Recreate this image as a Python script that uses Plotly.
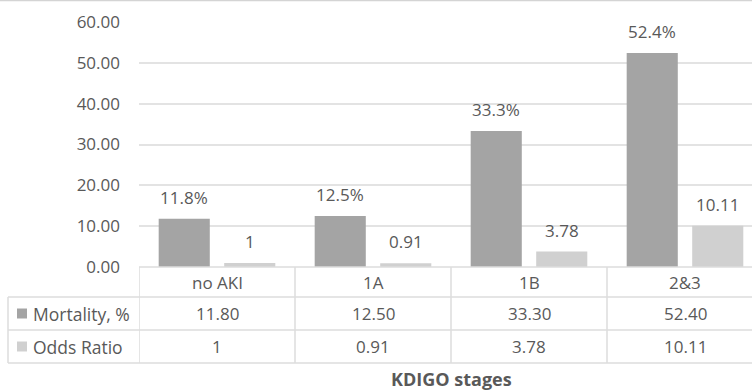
import plotly.graph_objects as go

# KDIGO stage data
stages = ["no AKI", "1A", "1B", "2&3"]
mortality = [11.8, 12.5, 33.3, 52.4]
odds_ratio = [1, 0.91, 3.78, 10.11]
mortality_table = ["11.80", "12.50", "33.30", "52.40"]
odds_table = ["1", "0.91", "3.78", "10.11"]
mortality_labels = ["11.8%", "12.5%", "33.3%", "52.4%"]
odds_labels = ["1", "0.91", "3.78", "10.11"]
series_names = ["Mortality, %", "Odds Ratio"]
y_ticks = [0, 10, 20, 30, 40, 50, 60]

TXT = "#595959"
GRID = "#e3e3e3"
MORT_C = "#a4a4a4"
ODDS_C = "#d0d0d0"
FONT = "Open Sans"

W, H = 752, 390
L, T, B = 139, 22, 123
plot_h = H - T - B          # 245
plot_w = W - L              # 613
cat_w = 156.0               # pixel width of one category


def px_to_paper_y(py):
    return (H - B - py) / plot_h


def px_to_paper_x(px):
    return (px - L) / plot_w


x_idx = list(range(len(stages)))

fig = go.Figure()
fig.add_trace(go.Bar(x=x_idx, y=mortality, name=series_names[0],
                     marker=dict(color=MORT_C, line=dict(width=0)),
                     showlegend=False))
fig.add_trace(go.Bar(x=x_idx, y=odds_ratio, name=series_names[1],
                     marker=dict(color=ODDS_C, line=dict(width=0)),
                     showlegend=False))

# value labels above the bars
off = 0.21
for i in x_idx:
    fig.add_annotation(x=i - off, y=mortality[i], xref="x", yref="y",
                       text=mortality_labels[i], showarrow=False,
                       yanchor="bottom", yshift=8,
                       font=dict(family=FONT, size=17, color=TXT))
    fig.add_annotation(x=i + off, y=odds_ratio[i], xref="x", yref="y",
                       text=odds_labels[i], showarrow=False,
                       yanchor="bottom", yshift=8,
                       font=dict(family=FONT, size=17, color=TXT))

# data table under the chart
row_lines_px = [267, 297, 330, 363]
row_centers_px = [282.5, 313.5, 346.5]
line_style = dict(color="#dcdcdc", width=1.5)
shapes = []
# horizontal table rules
shapes.append(dict(type="line", xref="paper", yref="paper",
                   x0=0, x1=1, y0=px_to_paper_y(row_lines_px[0]),
                   y1=px_to_paper_y(row_lines_px[0]), line=line_style))
for py in row_lines_px[1:]:
    shapes.append(dict(type="line", xref="paper", yref="paper",
                       x0=px_to_paper_x(8), x1=1, y0=px_to_paper_y(py),
                       y1=px_to_paper_y(py), line=line_style))
# vertical table rules
for i in range(len(stages)):
    shapes.append(dict(type="line", xref="x", yref="paper",
                       x0=i - 0.5, x1=i - 0.5,
                       y0=px_to_paper_y(row_lines_px[0]),
                       y1=px_to_paper_y(row_lines_px[-1]), line=line_style))
shapes.append(dict(type="line", xref="paper", yref="paper",
                   x0=px_to_paper_x(8), x1=px_to_paper_x(8),
                   y0=px_to_paper_y(row_lines_px[1]),
                   y1=px_to_paper_y(row_lines_px[-1]), line=line_style))
# legend keys
for r, col in zip([1, 2], [MORT_C, ODDS_C]):
    cy = row_centers_px[r]
    shapes.append(dict(type="rect", xref="paper", yref="paper",
                       x0=px_to_paper_x(17), x1=px_to_paper_x(27),
                       y0=px_to_paper_y(cy + 5), y1=px_to_paper_y(cy - 5),
                       fillcolor=col, line=dict(width=0)))
# outer top border of the chart area
shapes.append(dict(type="line", xref="paper", yref="paper",
                   x0=px_to_paper_x(0), x1=1,
                   y0=px_to_paper_y(0.5), y1=px_to_paper_y(0.5),
                   line=dict(color="#d4d4d4", width=1.5)))

for i in x_idx:
    for r, vals in enumerate([stages, mortality_table, odds_table]):
        fig.add_annotation(x=i, xref="x", yref="paper",
                           y=px_to_paper_y(row_centers_px[r]),
                           text=vals[i], showarrow=False, yanchor="middle",
                           font=dict(family=FONT, size=17, color=TXT))
for r, name in zip([1, 2], series_names):
    fig.add_annotation(x=px_to_paper_x(31), xref="paper", xanchor="left",
                       yref="paper", y=px_to_paper_y(row_centers_px[r]),
                       text=name, showarrow=False, yanchor="middle",
                       font=dict(family=FONT, size=17.5, color=TXT))

# axis title
fig.add_annotation(x=px_to_paper_x(L + 2 * cat_w), xref="paper",
                   y=px_to_paper_y(379), yref="paper",
                   text="<b>KDIGO stages</b>", showarrow=False,
                   yanchor="middle",
                   font=dict(family=FONT, size=18, color=TXT))

fig.update_layout(
    width=W, height=H,
    margin=dict(l=L, r=0, t=T, b=B),
    paper_bgcolor="white", plot_bgcolor="white",
    barmode="group", bargap=0.16, bargroupgap=0.22,
    shapes=shapes,
    font=dict(family=FONT, color=TXT),
    xaxis=dict(range=[-0.5, -0.5 + plot_w / cat_w], showticklabels=False,
               showgrid=False, zeroline=False, showline=False),
    yaxis=dict(range=[0, 60], tickvals=y_ticks, tickformat=".2f",
               showgrid=True, gridcolor=GRID, gridwidth=1.5,
               zeroline=False, showline=False, ticks="",
               ticklabelstandoff=18,
               tickfont=dict(family=FONT, size=17, color=TXT)),
)

fig.write_html("out.html")
